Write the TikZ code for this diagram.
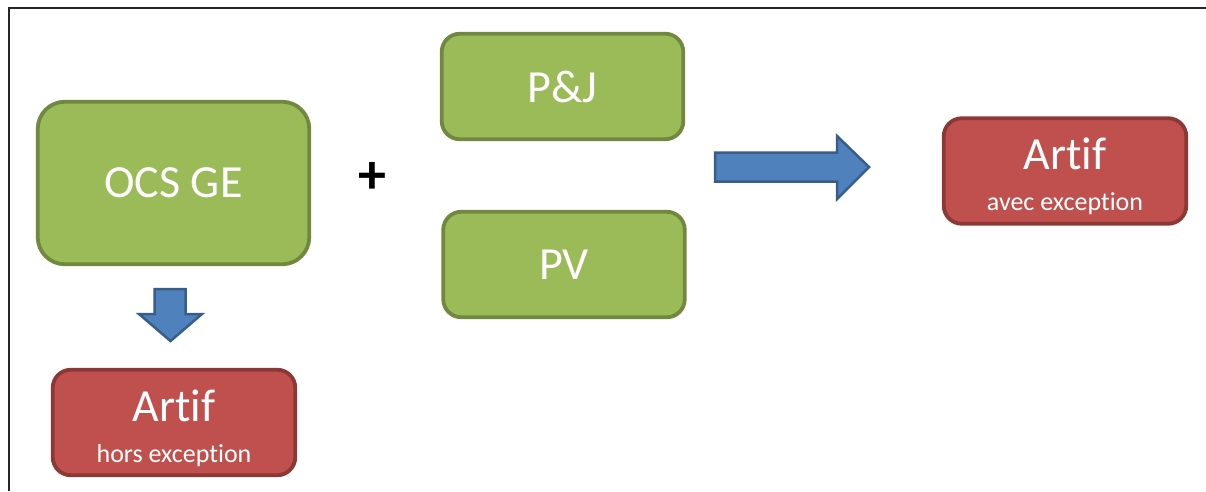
\documentclass[tikz,border=0pt]{standalone}
\usepackage{fontspec}
\setmainfont[Ligatures=CommonOff]{Carlito}
\definecolor{boxgreen}{HTML}{9BBB59}
\definecolor{boxgreenline}{HTML}{71893F}
\definecolor{boxred}{HTML}{C0504D}
\definecolor{boxredline}{HTML}{8C3836}
\definecolor{arrowblue}{HTML}{4F81BD}
\definecolor{arrowblueline}{HTML}{385D8A}

\begin{document}
\begin{tikzpicture}[x=1pt, y=-1pt,
  greenbox/.style={draw=boxgreenline, fill=boxgreen, line width=3.8pt, inner sep=0pt, outer sep=0pt,
    text=white, font=\fontsize{46}{50}\selectfont},
  redbox/.style={draw=boxredline, fill=boxred, line width=3.8pt, inner sep=0pt, outer sep=0pt,
    rounded corners=18pt, minimum width=242.5pt, minimum height=105.5pt,
    text=white, align=center, text depth=0pt, font=\fontsize{26}{30}\selectfont},
  blockarrow/.style={draw=arrowblueline, fill=arrowblue, line width=2.5pt, line join=miter}]
\useasboundingbox (0,0) rectangle (1206,491);

% Frame
\draw[line width=2pt, black!85] (9,491) -- (9,8) -- (1206,8);

% Sources
\node[greenbox, rounded corners=27pt, minimum width=271.5pt, minimum height=162.5pt] (ocs) at (173.5,183) {OCS GE};
\node[greenbox, rounded corners=18pt, minimum width=241.5pt, minimum height=105.5pt] (pj) at (562.5,86.5) {P\&J};
\node[greenbox, rounded corners=18pt, minimum width=241.5pt, minimum height=105.5pt] (pv) at (564,264.5) {PV};
\node[font=\bfseries\fontsize{56}{56}\selectfont] (plus) at (372,178) {+};

% Results
\node[redbox] (artifhors) at (174,422.5) {{\fontsize{46}{50}\selectfont\rule{0pt}{38pt}Artif}\\[11pt]hors exception};
\node[redbox] (artifavec) at (1065,171) {{\fontsize{46}{50}\selectfont\rule{0pt}{38pt}Artif}\\[11pt]avec exception};

% Arrows
\draw[blockarrow] (154.5,289) -- (185.5,289) -- (185.5,314) -- (202,314) -- (170.5,341)
  -- (139,314) -- (154.5,314) -- cycle;
\draw[blockarrow] (715,152.5) -- (837,152.5) -- (837,136) -- (869,167) -- (837,199)
  -- (837,181.5) -- (715,181.5) -- cycle;

\end{tikzpicture}
\end{document}
